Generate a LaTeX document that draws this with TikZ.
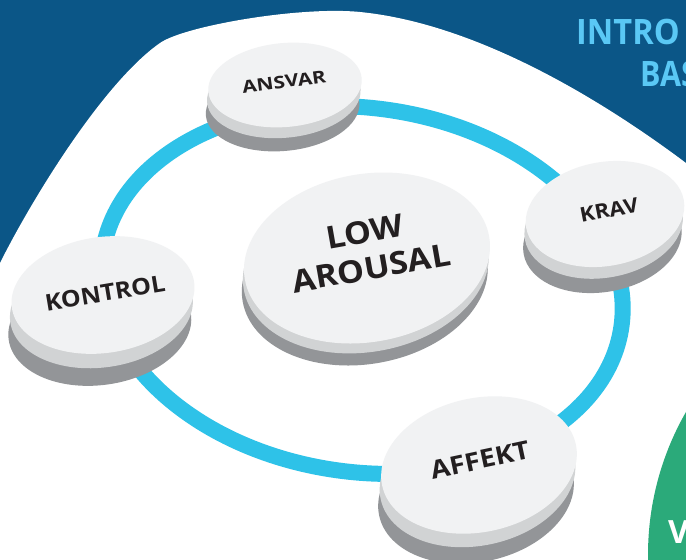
\documentclass[tikz,border=0pt]{standalone}
\usepackage{fontspec}
\setmainfont{Open Sans}
\definecolor{bgblue}{RGB}{11,86,135}
\definecolor{ringcyan}{RGB}{46,194,232}
\definecolor{titleblue}{RGB}{90,200,245}
\definecolor{greenc}{RGB}{43,170,122}
\definecolor{face}{RGB}{241,242,243}
\definecolor{rimlight}{RGB}{209,211,212}
\definecolor{rimdark}{RGB}{147,149,152}
\definecolor{labeltext}{RGB}{35,31,32}
\newcommand\mydisc[6]{%
 \fill[rimdark, rotate around={#5:({#1-0.1*#6},{#2+#6})}] ({#1-0.1*#6},{#2+#6}) ellipse[x radius=#3pt, y radius=#4pt];
 \fill[rimlight, rotate around={#5:({#1-0.05*#6},{#2+0.45*#6})}] ({#1-0.05*#6},{#2+0.45*#6}) ellipse[x radius=#3pt, y radius=#4pt];
 \fill[face, rotate around={#5:(#1,#2)}] (#1,#2) ellipse[x radius=#3pt, y radius=#4pt];
}
\tikzset{
  disclabel/.style={text=labeltext, font=\bfseries, inner sep=0pt, align=center},
  ringline/.style={draw=ringcyan, line width=16pt},
  titletext/.style={text=titleblue, font=\bfseries\fontsize{35}{38}\selectfont, inner sep=0pt, anchor=base west}
}
\begin{document}
\begin{tikzpicture}[x=1pt,y=-1pt]
\useasboundingbox (0,0) rectangle (686,560);
\clip (0,0) rectangle (686,560);
% background
\fill[bgblue] (0,0) rectangle (686,560);
\fill[white] (0,263) .. controls (31.3,200.4) and (102.7,83.1) .. (160,43)
  .. controls (184.6,25.8) and (300.3,6) .. (360,12)
  .. controls (479.4,23.9) and (606,103) .. (686,163)
  -- (700,173) -- (700,570) -- (-10,570) -- (-10,283) -- cycle;
% green circle
\fill[greenc] (936,555) circle[radius=288pt];
\node[text=white, font=\bfseries\fontsize{32}{34}\selectfont, inner sep=0pt, anchor=base west] (vtext) at (668,543) {V};
% titles
\node[titletext, xscale=0.93] (intro) at (576,44) {INTRO};
\node[titletext, xscale=0.87] (bas) at (640,86) {BAS};
% ring
\draw[ringline, rotate around={-8:(362,290)}] (362,290) ellipse[x radius=262pt, y radius=182pt];
% discs
\mydisc{285}{85}{77}{42}{5}{24}
\mydisc{367}{258}{124}{84}{10}{22}
\mydisc{605}{214}{80}{52}{10}{26}
\mydisc{103}{295}{92}{58}{8}{32}
\mydisc{479}{465}{99}{67}{12}{30}
% labels
\node[disclabel, font=\bfseries\fontsize{21}{22}\selectfont, rotate=8, yscale=0.82] (ansvar) at (284,82) {ANSVAR};
\node[disclabel, font=\bfseries\fontsize{34}{40}\selectfont, rotate=10, yscale=0.92] (low) at (368,250) {LOW\\AROUSAL};
\node[disclabel, font=\bfseries\fontsize{22.5}{24}\selectfont, rotate=11, yscale=0.9] (krav) at (609,210) {KRAV};
\node[disclabel, font=\bfseries\fontsize{25}{27}\selectfont, rotate=9.5, yscale=0.92] (kontrol) at (105,293) {KONTROL};
\node[disclabel, font=\bfseries\fontsize{28}{30}\selectfont, rotate=12, yscale=0.9] (affekt) at (480,460) {AFFEKT};
\end{tikzpicture}
\end{document}
